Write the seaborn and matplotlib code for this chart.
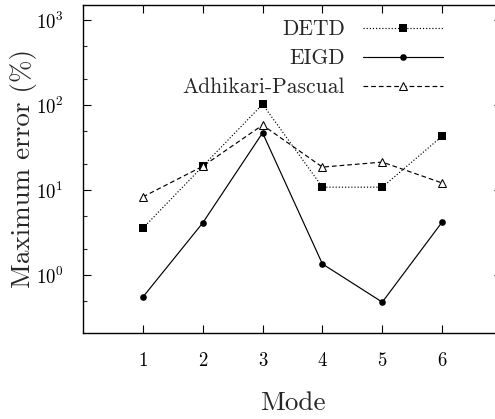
import matplotlib
matplotlib.use("Agg")
import matplotlib.pyplot as plt
import matplotlib.ticker as mticker
import seaborn as sns

# Maximum error (%) per mode for each method
modes = [1, 2, 3, 4, 5, 6]
detd = [3.55, 19.0, 102.0, 10.8, 10.8, 43.0]
eigd = [0.55, 4.1, 47.0, 1.35, 0.48, 4.2]
adhikari = [8.3, 19.0, 58.0, 18.6, 21.3, 12.1]
labels = ["DETD", "EIGD", "Adhikari-Pascual"]
xticks = [1, 2, 3, 4, 5, 6]

sns.set_style("ticks")
plt.rcParams["font.family"] = ["cmr10", "DejaVu Serif"]
plt.rcParams["mathtext.fontset"] = "cm"
plt.rcParams["axes.formatter.use_mathtext"] = True
plt.rcParams["axes.unicode_minus"] = False

fig = plt.figure(figsize=(4.95, 4.19), dpi=100)
ax = fig.add_axes([83 / 495, 86 / 419, 419 / 495, 328 / 419])

sns.lineplot(x=modes, y=detd, ax=ax, color="black", lw=0.85, linestyle=":",
             marker="s", markersize=5.3, markeredgewidth=0, label=labels[0])
sns.lineplot(x=modes, y=eigd, ax=ax, color="black", lw=0.85, linestyle="-",
             marker="o", markersize=4.8, markeredgewidth=0, label=labels[1])
sns.lineplot(x=modes, y=adhikari, ax=ax, color="black", lw=0.85,
             dashes=(4, 2.5), marker="^", markersize=5.6,
             markerfacecolor="white", markeredgecolor="black",
             markeredgewidth=0.75, label=labels[2])

ax.set_yscale("log")
ax.set_xlim(0, 7)
ax.set_ylim(0.208, 1500)
ax.set_xticks(xticks)
ax.set_xticklabels([str(t) for t in xticks])
ax.yaxis.set_major_locator(mticker.LogLocator(base=10, numticks=10))
ax.yaxis.set_minor_locator(mticker.LogLocator(base=10, subs=(2.0, 5.0), numticks=10))
ax.yaxis.set_minor_formatter(mticker.NullFormatter())

for s in ax.spines.values():
    s.set_linewidth(1.0)
    s.set_color("black")

ax.tick_params(axis="both", which="major", direction="in", length=6, width=0.8,
               top=True, right=True, labelsize=13.5, colors="black")
ax.tick_params(axis="both", which="minor", direction="in", length=3, width=0.8,
               top=True, right=True)
ax.tick_params(axis="x", which="major", pad=14)
ax.tick_params(axis="y", which="major", pad=14)
ax.xaxis.set_minor_locator(mticker.NullLocator())

ax.set_xlabel("Mode", fontsize=19.5)
ax.set_ylabel("Maximum error (%)", fontsize=19.5)
ax.xaxis.set_label_coords(0.5, -0.178)
ax.yaxis.set_label_coords(-0.11, 0.5)

leg = ax.legend(loc="upper right", bbox_to_anchor=(0.859, 0.955), frameon=False,
                markerfirst=False, fontsize=15.5, handlelength=3.72,
                handletextpad=0.84, labelspacing=0.44, borderpad=0,
                borderaxespad=0, numpoints=1)

fig.savefig("out.png", dpi=100)
